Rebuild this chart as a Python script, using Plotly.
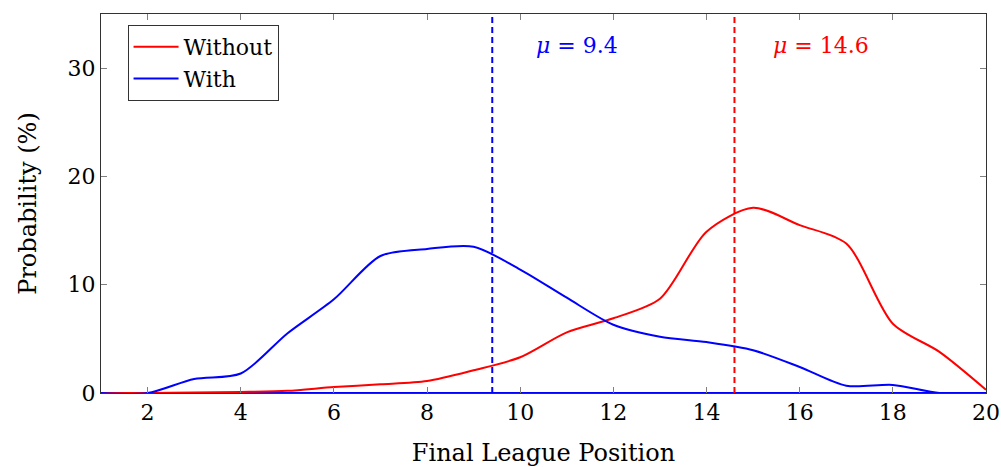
import plotly.graph_objects as go

positions = list(range(1, 21))
without = [0, 0, 0.05, 0.1, 0.2, 0.55, 0.8, 1.1, 2.1, 3.3, 5.6, 6.9, 8.7, 14.9, 17.1, 15.5, 13.8, 6.4, 3.8, 0.3]
with_ = [0, 0, 1.3, 1.8, 5.5, 8.65, 12.65, 13.3, 13.5, 11.4, 8.8, 6.3, 5.2, 4.7, 3.95, 2.4, 0.67, 0.75, 0, 0]
mu_without = 14.6
mu_with = 9.4

FONT = "'DejaVu Serif', 'Liberation Serif', serif"
RED = "#ff0000"
BLUE = "#0000ff"

fig = go.Figure()
fig.add_trace(go.Scatter(x=[1, 20], y=[0, 0], mode="lines", line=dict(color=BLUE, width=2),
                         showlegend=False, hoverinfo="skip"))
fig.add_trace(go.Scatter(x=positions, y=without, mode="lines", name="Without",
                         line=dict(color=RED, width=2, shape="spline", smoothing=0.8)))
fig.add_trace(go.Scatter(x=positions, y=with_, mode="lines", name="With",
                         line=dict(color=BLUE, width=2, shape="spline", smoothing=0.8)))
fig.add_trace(go.Scatter(x=[mu_with, mu_with], y=[0, 35], mode="lines", showlegend=False,
                         line=dict(color=BLUE, width=2, dash="6px,4px")))
fig.add_trace(go.Scatter(x=[mu_without, mu_without], y=[0, 35], mode="lines", showlegend=False,
                         line=dict(color=RED, width=2, dash="6px,4px")))

fig.add_annotation(x=mu_with + 1.81, y=32.1, text=f"<i>μ</i> = {mu_with}", showarrow=False,
                   font=dict(family=FONT, size=22, color=BLUE))
fig.add_annotation(x=mu_without + 1.85, y=32.1, text=f"<i>μ</i> = {mu_without}", showarrow=False,
                   font=dict(family=FONT, size=22, color=RED))

axis_common = dict(showline=True, linecolor="#333333", linewidth=1, mirror="allticks",
                   ticks="inside", ticklen=6, tickcolor="#808080", showgrid=False, zeroline=False,
                   tickfont=dict(family=FONT, size=22, color="black"))
fig.update_xaxes(range=[1, 20], tickvals=list(range(2, 21, 2)),
                 title=dict(text="Final League Position", font=dict(family=FONT, size=24, color="black"),
                            standoff=22), **axis_common)
fig.update_yaxes(range=[0, 35], tickvals=[0, 10, 20, 30],
                 title=dict(text="Probability (%)", font=dict(family=FONT, size=24, color="black"),
                            standoff=24), **axis_common)

fig.update_layout(
    width=1001, height=467,
    margin=dict(l=101, r=15, t=14, b=74, autoexpand=False),
    plot_bgcolor="white", paper_bgcolor="white",
    legend=dict(x=0.03, y=0.971, xanchor="left", yanchor="top",
                bordercolor="#333333", borderwidth=1, bgcolor="white",
                font=dict(family=FONT, size=22, color="black"),
                itemwidth=45, tracegroupgap=0, entrywidth=172),
)

fig.write_html("out.html")
